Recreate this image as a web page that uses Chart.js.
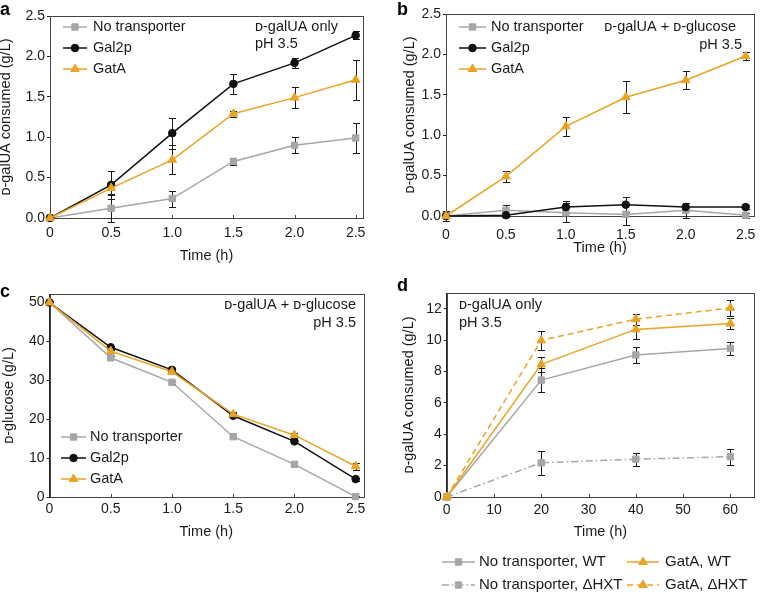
<!DOCTYPE html>
<html>
<head>
<meta charset="utf-8">
<script src="https://cdn.jsdelivr.net/npm/chart.js@4.4.1/dist/chart.umd.min.js"></script>
<style>
  body { margin: 0; background: #fff; }
  #wrap { position: relative; width: 760px; height: 594px; overflow: hidden; }
  canvas { position: absolute; }
</style>
</head>
<body>
<div id="wrap">
  <canvas id="chartA" width="380" height="275" style="left:0;top:0"></canvas>
  <canvas id="chartB" width="380" height="275" style="left:380px;top:0"></canvas>
  <canvas id="chartC" width="380" height="319" style="left:0;top:275px"></canvas>
  <canvas id="chartD" width="380" height="319" style="left:380px;top:275px"></canvas>
</div>
<script>
var FONT = '"Liberation Sans", Arial, "DejaVu Sans", sans-serif';
var GRAY = '#a6a6a6', BLACK = '#111111', ORANGE = '#e9a326';

// time points (h)
var timeShort = [0, 0.5, 1.0, 1.5, 2.0, 2.5];
var timeLong = [0, 20, 40, 60];

// tick labels
var ticksShortX = [0, 0.5, 1.0, 1.5, 2.0, 2.5];
var ticksGalUA = [0, 0.5, 1.0, 1.5, 2.0, 2.5];
var ticksGlucose = [0, 10, 20, 30, 40, 50];
var ticksLongX = [0, 10, 20, 30, 40, 50, 60];
var ticksLongY = [0, 2, 4, 6, 8, 10, 12];

// a: D-galUA only, pH 3.5
var aNoTrans = [0, 0.12, 0.24, 0.70, 0.90, 0.99];
var aNoTransErr = [0.02, 0.17, 0.10, 0.04, 0.10, 0.18];
var aGal2p = [0, 0.41, 1.05, 1.66, 1.92, 2.26];
var aGal2pErr = [0.02, 0.17, 0.19, 0.12, 0.06, 0.05];
var aGatA = [0, 0.37, 0.72, 1.29, 1.49, 1.71];
var aGatAErr = [0.02, 0.07, 0.18, 0.04, 0.13, 0.25];

// b: D-galUA + D-glucose, galUA consumed
var bNoTrans = [0, 0.07, 0.04, 0.02, 0.07, 0.01];
var bNoTransErr = [0.06, 0.07, 0.12, 0.13, 0.09, 0.03];
var bGal2p = [0, 0.01, 0.11, 0.14, 0.11, 0.11];
var bGal2pErr = [0.06, 0.02, 0.07, 0.09, 0.05, 0.02];
var bGatA = [0, 0.49, 1.11, 1.47, 1.68, 1.98];
var bGatAErr = [0.03, 0.07, 0.12, 0.20, 0.11, 0.05];

// c: D-galUA + D-glucose, glucose left
var cNoTrans = [50, 35.8, 29.5, 15.5, 8.4, 0.1];
var cNoTransErr = [0.3, 0.4, 0.4, 0.3, 0.3, 0.2];
var cGal2p = [50, 38.5, 32.7, 20.9, 14.3, 4.6];
var cGal2pErr = [0.3, 0.4, 0.4, 0.4, 0.5, 0.4];
var cGatA = [50, 37.5, 32.2, 21.3, 15.9, 7.9];
var cGatAErr = [0.3, 0.4, 0.4, 0.5, 0.6, 0.9];

// d: long run, WT vs dHXT
var dNoTransWT = [0, 7.45, 9.05, 9.47];
var dNoTransWTErr = [0.1, 0.75, 0.5, 0.42];
var dGatAWT = [0, 8.45, 10.68, 11.05];
var dGatAWTErr = [0.1, 0.5, 0.62, 0.35];
var dNoTransHXT = [0, 2.18, 2.41, 2.57];
var dNoTransHXTErr = [0.1, 0.78, 0.42, 0.52];
var dGatAHXT = [0, 9.98, 11.33, 12.05];
var dGatAHXTErr = [0.1, 0.6, 0.36, 0.5];

var styleNT = { borderColor: GRAY, pointBackgroundColor: GRAY, pointBorderColor: GRAY, pointStyle: 'rect', pointRadius: 4.5, order: 2 };
var styleGal = { borderColor: BLACK, pointBackgroundColor: BLACK, pointBorderColor: BLACK, pointStyle: 'circle', pointRadius: 3.8, order: 1 };
var styleGat = { borderColor: ORANGE, pointBackgroundColor: ORANGE, pointBorderColor: ORANGE, pointStyle: 'triangle', pointRadius: 5, order: 0 };

function series(label, xs, ys, errs, style, dash) {
    var ds = {
        label: label,
        data: xs.map(function(x, i) { return { x: x, y: ys[i] }; }),
        errors: errs,
        borderWidth: 1.5,
        pointBorderWidth: 1,
        pointHoverRadius: 5,
        borderDash: dash || [],
        clip: false,
        tension: 0
    };
    return Object.assign(ds, style);
}

// error bars, drawn under the markers
var errorBars = {
    id: 'errorBars',
    beforeDatasetsDraw: function(chart) {
        var ctx = chart.ctx, xs = chart.scales.x, ys = chart.scales.y;
        ctx.save();
        ctx.strokeStyle = '#1a1a1a';
        ctx.lineWidth = 1;
        chart.data.datasets.forEach(function(ds) {
            if (!ds.errors) return;
            ds.data.forEach(function(p, i) {
                var e = ds.errors[i];
                var px = Math.round(xs.getPixelForValue(p.x)) + 0.5;
                var top = Math.round(ys.getPixelForValue(p.y + e)) + 0.5;
                var bot = Math.round(ys.getPixelForValue(p.y - e)) + 0.5;
                ctx.beginPath();
                ctx.moveTo(px, top); ctx.lineTo(px, bot);
                ctx.moveTo(px - 3.5, top); ctx.lineTo(px + 3.5, top);
                ctx.moveTo(px - 3.5, bot); ctx.lineTo(px + 3.5, bot);
                ctx.stroke();
            });
        });
        ctx.restore();
    }
};

// box frame + inward x ticks
var frame = {
    id: 'frame',
    beforeDatasetsDraw: function(chart) {
        var ctx = chart.ctx, a = chart.chartArea, xs = chart.scales.x;
        ctx.save();
        ctx.strokeStyle = '#444';
        ctx.lineWidth = 1;
        ctx.strokeRect(Math.round(a.left) + 0.5, Math.round(a.top) + 0.5,
                       Math.round(a.right - a.left), Math.round(a.bottom - a.top));
        ctx.beginPath();
        xs.ticks.forEach(function(t) {
            var px = Math.round(xs.getPixelForValue(t.value)) + 0.5;
            ctx.moveTo(px, a.bottom);
            ctx.lineTo(px, a.bottom - 3);
        });
        ctx.stroke();
        ctx.restore();
    }
};

// panel letter, notes and line+marker legend
var decor = {
    id: 'decor',
    afterDraw: function(chart, args, opts) {
        var ctx = chart.ctx;
        ctx.save();
        ctx.fillStyle = '#000';
        ctx.font = 'bold 18px ' + FONT;
        ctx.textAlign = 'left';
        ctx.textBaseline = 'alphabetic';
        ctx.fillText(opts.letter[0], opts.letter[1], opts.letter[2]);

        ctx.font = '14.5px ' + FONT;
        ctx.textBaseline = 'middle';
        ctx.fillStyle = '#1a1a1a';
        (opts.notes || []).forEach(function(n) {
            ctx.textAlign = n.align;
            ctx.fillText(n.text, n.x, n.y);
        });

        ctx.font = (opts.legendSize || 14.5) + 'px ' + FONT;
        (opts.legend || []).forEach(function(it) {
            var ds = chart.data.datasets[it.ds];
            ctx.strokeStyle = ds.borderColor;
            ctx.lineWidth = ds.borderWidth;
            ctx.setLineDash(ds.borderDash || []);
            ctx.beginPath();
            ctx.moveTo(it.x0, it.y);
            ctx.lineTo(it.x1, it.y);
            ctx.stroke();
            ctx.setLineDash([]);
            ctx.fillStyle = ds.pointBackgroundColor;
            ctx.strokeStyle = ds.pointBorderColor;
            ctx.lineWidth = 1;
            Chart.helpers.drawPoint(ctx, { pointStyle: ds.pointStyle, radius: ds.pointRadius, borderWidth: 1, rotation: 0 }, (it.x0 + it.x1) / 2, it.y);
            ctx.fillStyle = '#1a1a1a';
            ctx.textAlign = 'left';
            ctx.fillText(ds.label, it.tx, it.y);
        });
        ctx.restore();
    }
};

function fmtShort(v) { return v === 0 ? '0' : v.toFixed(1); }

function makePanel(id, p) {
    return new Chart(document.getElementById(id), {
        type: 'line',
        data: { datasets: p.datasets },
        plugins: [frame, errorBars, decor],
        options: {
            responsive: false,
            animation: false,
            events: [],
            layout: { padding: p.padding },
            plugins: {
                legend: { display: false },
                tooltip: { enabled: false },
                decor: p.decor
            },
            scales: {
                x: {
                    type: 'linear',
                    min: p.xMin, max: p.xMax,
                    afterBuildTicks: function(s) { s.ticks = p.xTicks.map(function(v) { return { value: v }; }); },
                    afterFit: function(s) { s.height = p.xHeight; s.paddingLeft = 0; s.paddingRight = 0; },
                    border: { color: '#222', width: 1 },
                    grid: { display: true, drawOnChartArea: false, drawTicks: false },
                    ticks: {
                        padding: p.xPad, color: '#1a1a1a', maxRotation: 0, autoSkip: false,
                        font: { family: FONT, size: 14 },
                        callback: p.xFmt
                    },
                    title: {
                        display: true, text: 'Time (h)', color: '#1a1a1a',
                        font: { family: FONT, size: 14.5 },
                        padding: { top: 0, bottom: p.xTitlePad }
                    }
                },
                y: {
                    min: p.yMin, max: p.yMax,
                    afterBuildTicks: function(s) { s.ticks = p.yTicks.map(function(v) { return { value: v }; }); },
                    afterFit: function(s) { s.width = p.yWidth; s.paddingTop = 0; s.paddingBottom = 0; },
                    border: { color: '#222', width: 1 },
                    grid: { display: true, drawOnChartArea: false, drawTicks: true, tickLength: 3, color: '#222' },
                    ticks: {
                        padding: 2, color: '#1a1a1a', autoSkip: false,
                        font: { family: FONT, size: 14 },
                        callback: p.yFmt
                    },
                    title: {
                        display: true, text: p.yTitle, color: '#1a1a1a',
                        font: { family: FONT, size: 14.5, lineHeight: 1 },
                        padding: { top: p.yTitlePad, bottom: 0 }
                    }
                }
            }
        }
    });
}

var GALUA_TITLE = '\u1D05-galUA consumed (g/L)';

makePanel('chartA', {
    datasets: [
        series('No transporter', timeShort, aNoTrans, aNoTransErr, styleNT),
        series('Gal2p', timeShort, aGal2p, aGal2pErr, styleGal),
        series('GatA', timeShort, aGatA, aGatAErr, styleGat)
    ],
    padding: { left: 0, right: 17, top: 16, bottom: 0 },
    xMin: 0, xMax: 2.56, xTicks: ticksShortX, xFmt: fmtShort, xHeight: 57, xPad: 6.6, xTitlePad: 10,
    yMin: 0, yMax: 2.5, yTicks: ticksGalUA, yFmt: function(v) { return v.toFixed(1); }, yWidth: 50, yTitlePad: -1,
    yTitle: GALUA_TITLE,
    decor: {
        letter: ['a', 0, 15],
        notes: [
            { text: '\u1D05-galUA only', x: 255, y: 27, align: 'left' },
            { text: 'pH 3.5', x: 255, y: 44, align: 'left' }
        ],
        legend: [
            { ds: 0, x0: 63, x1: 87, tx: 93, y: 27 },
            { ds: 1, x0: 63, x1: 87, tx: 93, y: 48 },
            { ds: 2, x0: 63, x1: 87, tx: 93, y: 69 }
        ]
    }
});

makePanel('chartB', {
    datasets: [
        series('No transporter', timeShort, bNoTrans, bNoTransErr, styleNT),
        series('Gal2p', timeShort, bGal2p, bGal2pErr, styleGal),
        series('GatA', timeShort, bGatA, bGatAErr, styleGat)
    ],
    padding: { left: 0, right: 2, top: 14, bottom: 0 },
    xMin: 0, xMax: 2.57, xTicks: ticksShortX, xFmt: fmtShort, xHeight: 59, xPad: 10.6, xTitlePad: 18,
    yMin: 0, yMax: 2.5, yTicks: ticksGalUA, yFmt: function(v) { return v.toFixed(1); }, yWidth: 66, yTitlePad: 23,
    yTitle: GALUA_TITLE,
    decor: {
        letter: ['b', 17, 15],
        notes: [
            { text: '\u1D05-galUA + \u1D05-glucose', x: 356, y: 27, align: 'right' },
            { text: 'pH 3.5', x: 362, y: 45, align: 'right' }
        ],
        legend: [
            { ds: 0, x0: 79, x1: 106, tx: 111, y: 27 },
            { ds: 1, x0: 79, x1: 106, tx: 111, y: 48 },
            { ds: 2, x0: 79, x1: 106, tx: 111, y: 69 }
        ]
    }
});

makePanel('chartC', {
    datasets: [
        series('No transporter', timeShort, cNoTrans, cNoTransErr, styleNT),
        series('Gal2p', timeShort, cGal2p, cGal2pErr, styleGal),
        series('GatA', timeShort, cGatA, cGatAErr, styleGat)
    ],
    padding: { left: 0, right: 17, top: 19, bottom: 0 },
    xMin: 0, xMax: 2.56, xTicks: ticksShortX, xFmt: fmtShort, xHeight: 97, xPad: 3.6, xTitlePad: 53,
    yMin: 0, yMax: 52.2, yTicks: ticksGlucose, yFmt: function(v) { return String(v); }, yWidth: 49.5, yTitlePad: 2,
    yTitle: '\u1D05-glucose (g/L)',
    decor: {
        letter: ['c', 0, 22],
        notes: [
            { text: '\u1D05-galUA + \u1D05-glucose', x: 356, y: 30, align: 'right' },
            { text: 'pH 3.5', x: 356, y: 48, align: 'right' }
        ],
        legend: [
            { ds: 0, x0: 61, x1: 86, tx: 90, y: 162 },
            { ds: 1, x0: 61, x1: 86, tx: 90, y: 183 },
            { ds: 2, x0: 61, x1: 86, tx: 90, y: 204 }
        ]
    }
});

makePanel('chartD', {
    datasets: [
        series('No transporter, WT', timeLong, dNoTransWT, dNoTransWTErr, styleNT),
        series('GatA, WT', timeLong, dGatAWT, dGatAWTErr, styleGat),
        series('No transporter, \u0394HXT', timeLong, dNoTransHXT, dNoTransHXTErr, styleNT, [7, 3, 1.5, 3]),
        series('GatA, \u0394HXT', timeLong, dGatAHXT, dGatAHXTErr, styleGat, [6, 4])
    ],
    padding: { left: 0, right: 2, top: 18, bottom: 0 },
    xMin: 0, xMax: 65, xTicks: ticksLongX, xFmt: function(v) { return String(v); }, xHeight: 97, xPad: 4.6, xTitlePad: 53,
    yMin: 0, yMax: 13, yTicks: ticksLongY, yFmt: function(v) { return String(v); }, yWidth: 66.7, yTitlePad: 22,
    yTitle: GALUA_TITLE,
    decor: {
        letter: ['d', 17, 16],
        legendSize: 15,
        notes: [
            { text: '\u1D05-galUA only', x: 79, y: 30, align: 'left' },
            { text: 'pH 3.5', x: 79, y: 48, align: 'left' }
        ],
        legend: [
            { ds: 0, x0: 62, x1: 95, tx: 99, y: 287 },
            { ds: 1, x0: 247, x1: 279, tx: 285, y: 287 },
            { ds: 2, x0: 62, x1: 95, tx: 99, y: 310 },
            { ds: 3, x0: 247, x1: 279, tx: 285, y: 310 }
        ]
    }
});
</script>
</body>
</html>
